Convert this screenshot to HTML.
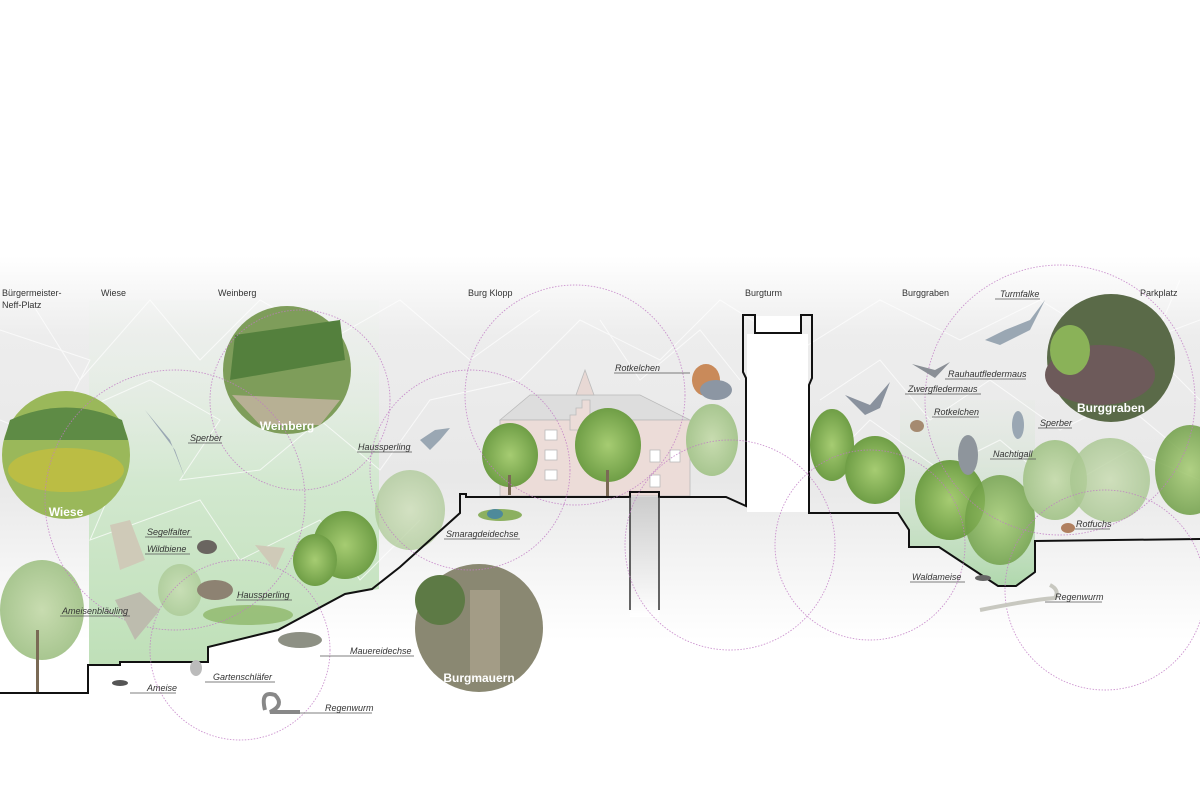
<!DOCTYPE html>
<html><head><meta charset="utf-8"><style>
html,body{margin:0;padding:0;background:#fff}
svg{display:block}
text{font-family:"Liberation Sans",sans-serif}
.h{font-size:9px;fill:#333}
.l{font-size:9px;fill:#333;font-style:italic}
.ph{font-size:12px;fill:#fff;font-weight:bold}
</style></head><body>
<svg width="1200" height="800" viewBox="0 0 1200 800" xmlns="http://www.w3.org/2000/svg">
<defs>
<linearGradient id="bg" x1="0" y1="0" x2="0" y2="1">
<stop offset="0" stop-color="#fff"/><stop offset="0.32" stop-color="#fff"/>
<stop offset="0.42" stop-color="#ededed"/><stop offset="0.6" stop-color="#e8e8e8"/>
<stop offset="0.72" stop-color="#f6f6f6"/><stop offset="0.8" stop-color="#fff"/>
</linearGradient>
<linearGradient id="gr" x1="0" y1="0" x2="0" y2="1">
<stop offset="0" stop-color="#eef3ee" stop-opacity="0.2"/><stop offset="0.5" stop-color="#d2e8cf"/><stop offset="1" stop-color="#bfe0b8"/>
</linearGradient>
<linearGradient id="gr2" x1="0" y1="0" x2="0" y2="1">
<stop offset="0" stop-color="#e3ece2" stop-opacity="0.3"/><stop offset="1" stop-color="#9ed09a"/>
</linearGradient>
<linearGradient id="well" x1="0" y1="0" x2="0" y2="1">
<stop offset="0" stop-color="#ccc"/><stop offset="1" stop-color="#fff"/>
</linearGradient>
<radialGradient id="tree"><stop offset="0" stop-color="#a6cc72"/><stop offset="1" stop-color="#6f9e46"/></radialGradient>
<radialGradient id="treel"><stop offset="0" stop-color="#c8dcb0"/><stop offset="1" stop-color="#a8c690"/></radialGradient>
</defs>
<rect width="1200" height="800" fill="url(#bg)"/>
<!-- green zones -->
<path d="M89 300 L379 300 L379 589 L345 594 L278 630 L208 647 L208 662 L120 662 L120 665 L89 665Z" fill="url(#gr)"/>
<path d="M900 400 L1035 400 L1035 572 L1016 586 L998 586 L939 547 L909 547 L909 530 L900 516Z" fill="url(#gr2)" opacity="0.8"/>
<!-- web lines -->
<g stroke="#fff" stroke-width="1" fill="none" opacity="0.7">
<path d="M0 330 L90 360 L60 420 L150 380 L220 420 L180 480 L260 470 L320 420 L380 470 L430 400 L520 380 L580 320 L660 360 L720 300 L800 350 L880 300 L960 340 L1040 300 L1120 350 L1200 320"/>
<path d="M0 420 L120 470 L90 540 L200 500 L240 560 L320 520 L360 580 L420 520"/>
<path d="M30 300 L80 380 L150 300 L200 360 L260 300 L330 340 L400 300 L470 360 L540 310"/>
<path d="M820 400 L880 360 L930 420 L990 380 L1060 430 L1120 400 L1180 450"/>
<path d="M820 470 L870 420 L940 470 L1000 440 L1060 490 L1130 450 L1200 480"/>
<path d="M600 320 L640 380 L700 330 L740 380"/>
<path d="M1180 280 L1150 350 L1200 400"/>
</g>
<!-- castle -->
<g stroke="#bbb" stroke-width="0.8">
<path d="M500 420 L530 395 L640 395 L690 420 Z" fill="#ddd"/>
<rect x="500" y="420" width="190" height="76" fill="#ecdcd8"/>
<path d="M576 395 L585 370 L594 395 Z" fill="#e8d8d4"/>
<path d="M570 430 L570 415 L576 415 L576 408 L582 408 L582 400 L590 400 L590 430Z" fill="#ecdcd8"/>
<g fill="#fff"><rect x="545" y="430" width="12" height="10"/><rect x="545" y="450" width="12" height="10"/><rect x="545" y="470" width="12" height="10"/><rect x="650" y="450" width="10" height="12"/><rect x="670" y="450" width="10" height="12"/><rect x="650" y="475" width="10" height="12"/></g>
</g>
<!-- trees -->
<g>
<ellipse cx="42" cy="610" rx="42" ry="50" fill="url(#treel)"/><rect x="36" y="630" width="3" height="62" fill="#7a6a55"/>
<ellipse cx="180" cy="590" rx="22" ry="26" fill="url(#treel)" opacity="0.7"/>
<ellipse cx="345" cy="545" rx="32" ry="34" fill="url(#tree)"/><ellipse cx="315" cy="560" rx="22" ry="26" fill="url(#tree)"/>
<ellipse cx="248" cy="615" rx="45" ry="10" fill="#8fb86a" opacity="0.8"/>
<ellipse cx="410" cy="510" rx="35" ry="40" fill="url(#treel)" opacity="0.7"/>
<ellipse cx="510" cy="455" rx="28" ry="32" fill="url(#tree)"/><rect x="508" y="475" width="3" height="20" fill="#7a6a55"/>
<ellipse cx="608" cy="445" rx="33" ry="37" fill="url(#tree)"/><rect x="606" y="470" width="3" height="26" fill="#7a6a55"/>
<ellipse cx="712" cy="440" rx="26" ry="36" fill="url(#treel)"/>
<ellipse cx="832" cy="445" rx="22" ry="36" fill="url(#tree)"/>
<ellipse cx="875" cy="470" rx="30" ry="34" fill="url(#tree)"/>
<ellipse cx="950" cy="500" rx="35" ry="40" fill="url(#tree)"/>
<ellipse cx="1000" cy="520" rx="35" ry="45" fill="url(#tree)" opacity="0.8"/>
<ellipse cx="1055" cy="480" rx="32" ry="40" fill="url(#treel)"/>
<ellipse cx="1110" cy="480" rx="40" ry="42" fill="url(#treel)" opacity="0.8"/>
<ellipse cx="1190" cy="470" rx="35" ry="45" fill="url(#tree)" opacity="0.85"/>
</g>
<!-- photo circles -->
<circle cx="66" cy="455" r="64" fill="#9ab85a"/>
<path d="M10 420 Q66 395 122 420 L128 440 L4 440Z" fill="#5e8b45"/><ellipse cx="66" cy="470" rx="58" ry="22" fill="#c9bf3a" opacity="0.7"/>
<circle cx="287" cy="370" r="64" fill="#7e9d5a"/><path d="M235 335 L340 320 L345 360 L230 380Z" fill="#54803d"/><path d="M232 395 L340 400 L320 425 L260 425Z" fill="#b7b094"/>
<circle cx="479" cy="628" r="64" fill="#8a8872"/><rect x="470" y="590" width="30" height="90" fill="#a39c86"/><ellipse cx="440" cy="600" rx="25" ry="25" fill="#5d7a45"/>
<circle cx="1111" cy="358" r="64" fill="#5a6a48"/><ellipse cx="1100" cy="375" rx="55" ry="30" fill="#6d5a5a"/><ellipse cx="1070" cy="350" rx="20" ry="25" fill="#8ab258"/>
<text class="ph" x="66" y="516" text-anchor="middle">Wiese</text>
<text class="ph" x="287" y="430" text-anchor="middle">Weinberg</text>
<text class="ph" x="479" y="682" text-anchor="middle">Burgmauern</text>
<text class="ph" x="1111" y="412" text-anchor="middle">Burggraben</text>
<!-- well & tower interior -->
<rect x="630" y="497" width="29" height="120" fill="url(#well)"/>
<rect x="747" y="334" width="61" height="178" fill="#fff"/>
<rect x="756" y="316" width="44" height="18" fill="#fff"/>
<!-- ground line -->
<g fill="none" stroke="#111" stroke-width="2">
<path d="M0 693 L88 693 L88 665 L120 665 L120 662 L208 662 L208 647 L278 630 L345 594 L372 589 L400 567 L460 513 L460 494 L466 494 L466 497 L630 497 L630 492 L659 492 L659 497 L726 497 L746 506 L746 378 L743 372 L743 315 L755 315 L755 333 L801 333 L801 315 L812 315 L812 378 L809 385 L809 513 L898 513 L909 530 L909 547 L939 547 L998 586 L1016 586 L1035 572 L1035 541 L1200 539"/>
<path d="M630 497 L630 610 M659 497 L659 610" stroke="#333" stroke-width="1.5"/>
</g>
<!-- dotted arcs -->
<g fill="none" stroke="#c07ac4" stroke-width="0.9" stroke-dasharray="1.5 1.5" opacity="0.8">
<circle cx="575" cy="395" r="110"/>
<circle cx="175" cy="500" r="130"/>
<circle cx="240" cy="650" r="90"/>
<circle cx="470" cy="470" r="100"/>
<circle cx="730" cy="545" r="105"/>
<circle cx="870" cy="545" r="95"/>
<circle cx="1105" cy="590" r="100"/>
<circle cx="1060" cy="400" r="135"/>
<circle cx="300" cy="400" r="90"/>
</g>
<!-- animals (approx) -->
<g fill="#9aa7b3">
<path d="M145 410 L170 440 L185 478 L175 450 L160 430Z"/>
<path d="M420 440 L435 430 L450 428 L440 440 L430 450Z"/>
<ellipse cx="706" cy="380" rx="14" ry="16" fill="#c98a5a"/><ellipse cx="716" cy="390" rx="16" ry="10" fill="#8c96a3"/>
<path d="M975 295 L1005 330 L1030 320 L1045 300 L1030 330 L1000 345 L985 340 L1005 330Z"/>
<path d="M912 364 L935 370 L950 362 L935 378Z" fill="#8a8f96"/>
<path d="M845 395 L870 405 L890 382 L880 408 L865 415Z" fill="#8a929e"/>
<ellipse cx="968" cy="455" rx="10" ry="20" fill="#8e959c"/>
<ellipse cx="1018" cy="425" rx="6" ry="14"/>
<ellipse cx="917" cy="426" rx="7" ry="6" fill="#a58a70"/>
<path d="M110 525 L130 520 L145 560 L120 570Z" fill="#cfcab8"/>
<ellipse cx="207" cy="547" rx="10" ry="7" fill="#6a6560"/>
<path d="M255 545 L285 548 L275 570Z" fill="#cfcab8"/>
<ellipse cx="215" cy="590" rx="18" ry="10" fill="#8d8272"/>
<path d="M115 600 L140 592 L160 610 L135 640Z" fill="#bdbcae"/>
<ellipse cx="300" cy="640" rx="22" ry="8" fill="#8d9084"/>
<ellipse cx="500" cy="515" rx="22" ry="6" fill="#8cb060"/><ellipse cx="495" cy="514" rx="8" ry="5" fill="#4e8a9a"/>
<path d="M265 710 Q260 690 275 695 Q285 705 270 712 L300 712" stroke="#888" stroke-width="4" fill="none"/>
<path d="M980 610 Q1030 600 1055 598 Q1060 590 1050 585" stroke="#c8c8c0" stroke-width="4" fill="none"/>
<ellipse cx="196" cy="668" rx="6" ry="8" fill="#bbb"/>
<ellipse cx="120" cy="683" rx="8" ry="3" fill="#555"/>
<ellipse cx="983" cy="578" rx="8" ry="3" fill="#666"/>
<ellipse cx="1068" cy="528" rx="7" ry="5" fill="#b08060"/>
</g>
<!-- header labels -->
<text class="h" x="2" y="296">Bürgermeister-</text>
<text class="h" x="2" y="308">Neff-Platz</text>
<text class="h" x="101" y="296">Wiese</text>
<text class="h" x="218" y="296">Weinberg</text>
<text class="h" x="468" y="296">Burg Klopp</text>
<text class="h" x="745" y="296">Burgturm</text>
<text class="h" x="902" y="296">Burggraben</text>
<text class="h" x="1140" y="296">Parkplatz</text>
<!-- animal labels -->
<g stroke="#555" stroke-width="0.8">
<line x1="188" y1="443" x2="222" y2="443"/><line x1="357" y1="452" x2="412" y2="452"/>
<line x1="614" y1="373" x2="690" y2="373"/><line x1="145" y1="537" x2="192" y2="537"/>
<line x1="145" y1="554" x2="190" y2="554"/><line x1="236" y1="600" x2="292" y2="600"/>
<line x1="60" y1="616" x2="130" y2="616"/><line x1="320" y1="656" x2="414" y2="656"/>
<line x1="205" y1="682" x2="275" y2="682"/><line x1="130" y1="693" x2="176" y2="693"/>
<line x1="300" y1="713" x2="372" y2="713"/><line x1="444" y1="539" x2="520" y2="539"/>
<line x1="995" y1="299" x2="1040" y2="299"/><line x1="945" y1="379" x2="1026" y2="379"/>
<line x1="905" y1="394" x2="981" y2="394"/><line x1="932" y1="417" x2="979" y2="417"/>
<line x1="1038" y1="428" x2="1072" y2="428"/><line x1="990" y1="459" x2="1036" y2="459"/>
<line x1="1075" y1="529" x2="1110" y2="529"/><line x1="910" y1="582" x2="965" y2="582"/>
<line x1="1045" y1="602" x2="1102" y2="602"/>
</g>
<text class="l" x="190" y="441">Sperber</text>
<text class="l" x="358" y="450">Haussperling</text>
<text class="l" x="615" y="371">Rotkelchen</text>
<text class="l" x="147" y="535">Segelfalter</text>
<text class="l" x="147" y="552">Wildbiene</text>
<text class="l" x="237" y="598">Haussperling</text>
<text class="l" x="62" y="614">Ameisenbläuling</text>
<text class="l" x="350" y="654">Mauereidechse</text>
<text class="l" x="213" y="680">Gartenschläfer</text>
<text class="l" x="147" y="691">Ameise</text>
<text class="l" x="325" y="711">Regenwurm</text>
<text class="l" x="446" y="537">Smaragdeidechse</text>
<text class="l" x="1000" y="297">Turmfalke</text>
<text class="l" x="948" y="377">Rauhautfledermaus</text>
<text class="l" x="908" y="392">Zwergfledermaus</text>
<text class="l" x="934" y="415">Rotkelchen</text>
<text class="l" x="1040" y="426">Sperber</text>
<text class="l" x="993" y="457">Nachtigall</text>
<text class="l" x="1076" y="527">Rotfuchs</text>
<text class="l" x="912" y="580">Waldameise</text>
<text class="l" x="1055" y="600">Regenwurm</text>
</svg>
</body></html>
